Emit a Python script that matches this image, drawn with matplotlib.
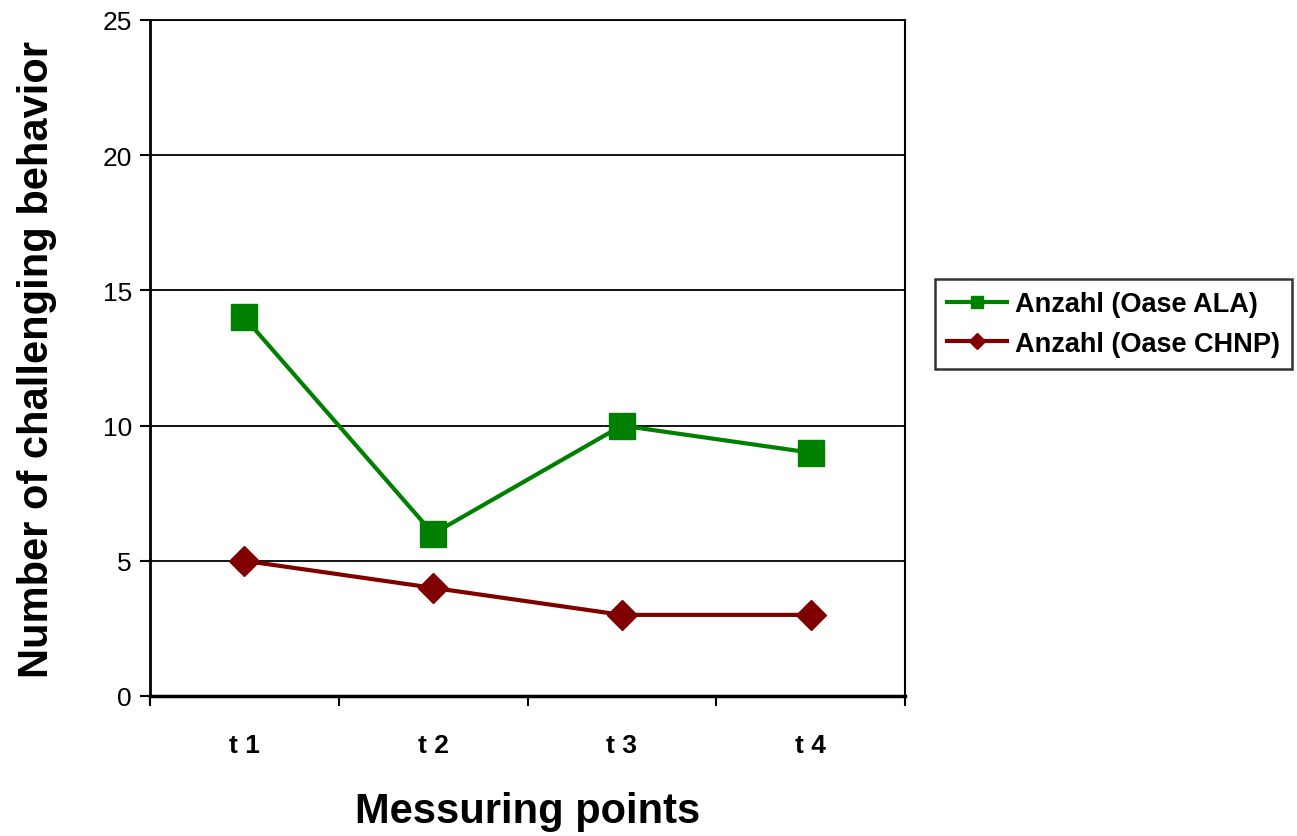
import matplotlib
matplotlib.use("Agg")
import matplotlib.pyplot as plt
from matplotlib.lines import Line2D
import numpy as np

plt.rcParams['font.family'] = ['Liberation Sans', 'DejaVu Sans']

categories = ["t 1", "t 2", "t 3", "t 4"]
ala_values = [14, 6, 10, 9]
chnp_values = [5, 4, 3, 3]
series_labels = ["Anzahl (Oase ALA)", "Anzahl (Oase CHNP)"]
yticks = [0, 5, 10, 15, 20, 25]

green = "#008000"
darkred = "#800000"

fig = plt.figure(figsize=(12.97, 8.37), dpi=100)
ax = fig.add_axes([150 / 1297, 1 - 697 / 837, (905 - 150) / 1297, (697 - 21) / 837])

x = np.arange(1, len(categories) + 1)
ax.plot(x, ala_values, color=green, lw=3, marker="s", ms=19,
        mfc=green, mec=green, zorder=3, clip_on=False)
ax.plot(x, chnp_values, color=darkred, lw=3, marker="D", ms=15,
        mfc=darkred, mec=darkred, zorder=3, clip_on=False)

ax.set_xlim(0.5, len(categories) + 0.5)
ax.set_ylim(0, 25)
ax.set_yticks(yticks)
ax.set_yticklabels([str(v) for v in yticks], fontsize=19)
ax.set_xticks(np.arange(0.5, len(categories) + 1, 1.0))
ax.set_xticklabels([])
ax.set_xticks(x, minor=True)
ax.set_xticklabels(categories, minor=True, fontsize=19, fontweight="bold")
ax.tick_params(axis="x", which="minor", length=0, pad=27)
ax.tick_params(axis="x", which="major", direction="out", length=7, width=1.5)
ax.tick_params(axis="y", direction="out", length=7, width=1.5, pad=6)

for v in yticks[1:]:
    ax.axhline(v, color="black", lw=1.3, zorder=1)

ax.spines["left"].set_linewidth(2)
ax.spines["bottom"].set_linewidth(2.5)
ax.spines["right"].set_linewidth(1.5)
ax.spines["top"].set_linewidth(1.3)

ax.set_xlabel("Messuring points", fontsize=30, fontweight="bold", labelpad=24)
ax.set_ylabel("Number of challenging behavior", fontsize=30, fontweight="bold", labelpad=33)

handles = [
    Line2D([], [], color=green, lw=3, marker="s", ms=9, mfc=green, mec=green),
    Line2D([], [], color=darkred, lw=3, marker="D", ms=8, mfc=darkred, mec=darkred),
]
leg = fig.legend(handles, series_labels, loc="upper left",
                 bbox_to_anchor=(935 / 1297, 1 - 280 / 837),
                 prop={"size": 19.5, "weight": "bold"}, frameon=True,
                 fancybox=False, edgecolor="black", handlelength=2.2,
                 handletextpad=0.3, borderpad=0.45, labelspacing=0.5,
                 borderaxespad=0)
leg.get_frame().set_linewidth(1.8)

fig.savefig("out.png", dpi=100)
